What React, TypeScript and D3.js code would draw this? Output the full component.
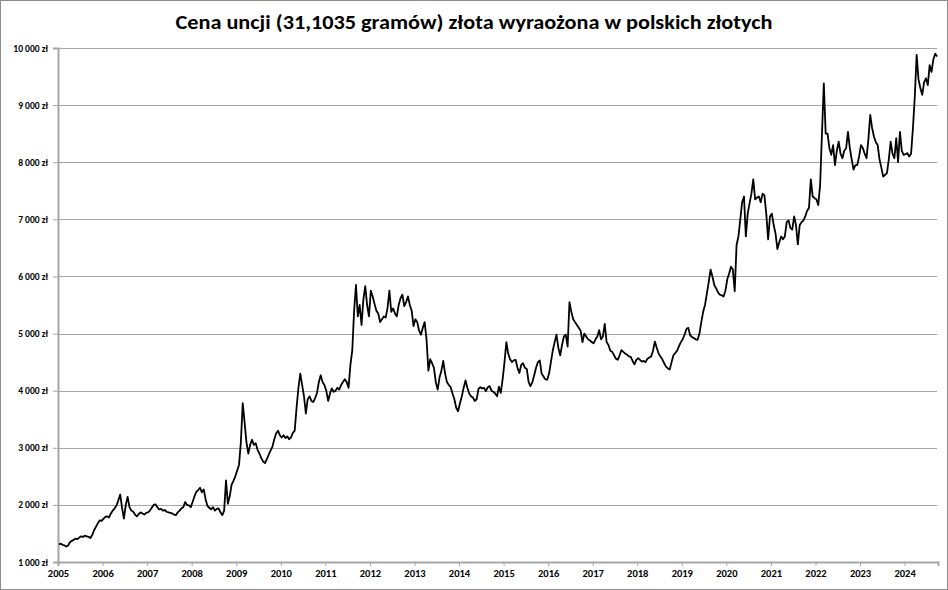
import * as React from "react";
import * as d3 from "d3";

// Semi-monthly readings of the gold price (PLN per troy ounce), one array per year
const p2005 = [1310, 1320, 1300, 1290, 1270, 1290, 1350, 1370, 1390, 1410, 1400, 1430, 1450, 1440, 1460, 1450, 1440, 1420, 1480, 1560, 1620, 1680, 1730, 1720];
const p2006 = [1760, 1790, 1800, 1780, 1850, 1900, 1940, 1990, 2080, 2180, 1950, 1760, 2000, 2140, 1960, 1900, 1880, 1830, 1800, 1840, 1870, 1850, 1830, 1860];
const p2007 = [1870, 1900, 1950, 2000, 2010, 1960, 1920, 1930, 1900, 1910, 1880, 1870, 1860, 1850, 1830, 1820, 1870, 1900, 1940, 1960, 2050, 2000, 1990, 1960];
const p2008 = [2050, 2150, 2230, 2260, 2300, 2220, 2270, 2100, 1980, 1950, 1920, 1960, 1900, 1930, 1940, 1870, 1820, 1900, 2430, 2020, 2150, 2350, 2420, 2500];
const p2009 = [2600, 2700, 3100, 3780, 3450, 3100, 2900, 3050, 3140, 3050, 3080, 2960, 2900, 2820, 2760, 2730, 2800, 2880, 2950, 3020, 3150, 3250, 3300, 3220];
const p2010 = [3180, 3220, 3170, 3200, 3150, 3180, 3260, 3300, 3700, 4050, 4300, 4100, 3900, 3600, 3850, 3900, 3820, 3800, 3870, 3960, 4150, 4270, 4150, 4100];
const p2011 = [4000, 3820, 3950, 4040, 3980, 4000, 4050, 4020, 4100, 4150, 4200, 4150, 4050, 4450, 4700, 5400, 5850, 5300, 5500, 5150, 5600, 5830, 5500, 5300];
const p2012 = [5750, 5650, 5520, 5400, 5350, 5200, 5250, 5300, 5280, 5450, 5750, 5380, 5440, 5350, 5300, 5500, 5620, 5680, 5480, 5550, 5650, 5500, 5400, 5130];
const p2013 = [5250, 5200, 5050, 4980, 5100, 5200, 4900, 4350, 4550, 4480, 4400, 4150, 4020, 4230, 4350, 4520, 4300, 4150, 4100, 4060, 3950, 3850, 3700, 3640];
const p2014 = [3780, 3900, 4050, 4180, 4050, 3950, 3900, 3880, 3820, 3850, 4030, 4060, 4040, 4050, 3990, 4060, 4080, 4000, 3980, 3950, 3900, 4070, 3960, 4200];
const p2015 = [4500, 4850, 4650, 4550, 4500, 4530, 4540, 4400, 4310, 4450, 4480, 4400, 4380, 4150, 4080, 4150, 4270, 4400, 4500, 4530, 4300, 4250, 4200, 4190];
const p2016 = [4300, 4500, 4700, 4850, 4980, 4750, 4620, 4800, 4950, 4980, 4770, 5550, 5380, 5250, 5200, 5150, 5100, 5050, 4850, 5000, 4950, 4900, 4880, 4850];
const p2017 = [4830, 4900, 4950, 5060, 4900, 4950, 5170, 4850, 4800, 4700, 4680, 4620, 4560, 4540, 4620, 4710, 4680, 4650, 4630, 4600, 4590, 4520, 4460, 4540];
const p2018 = [4570, 4540, 4510, 4520, 4500, 4560, 4580, 4600, 4700, 4860, 4750, 4650, 4600, 4550, 4480, 4420, 4390, 4370, 4500, 4620, 4660, 4700, 4780, 4850];
const p2019 = [4900, 4980, 5080, 5100, 4970, 4940, 4920, 4900, 4890, 5000, 5200, 5380, 5500, 5700, 5900, 6120, 6000, 5850, 5790, 5720, 5680, 5670, 5650, 5750];
const p2020 = [5950, 6050, 6170, 6120, 5740, 6550, 6700, 7000, 7300, 7400, 6700, 7100, 7280, 7450, 7700, 7350, 7380, 7400, 7300, 7450, 7420, 7100, 6650, 7050];
const p2021 = [7100, 6900, 6750, 6480, 6600, 6700, 6650, 6700, 6950, 6980, 6850, 6820, 7050, 6900, 6560, 6900, 6950, 6980, 7050, 7150, 7200, 7700, 7400, 7370];
const p2022 = [7350, 7250, 7600, 8500, 9380, 8500, 8500, 8250, 8130, 8300, 7950, 8200, 8360, 8150, 8070, 8200, 8240, 8530, 8250, 8050, 7870, 7950, 7950, 8100];
const p2023 = [8300, 8250, 8150, 8070, 8400, 8830, 8600, 8450, 8350, 8300, 8050, 7900, 7750, 7780, 7810, 8050, 8360, 8150, 8070, 8420, 8000, 8530, 8200, 8130];
const p2024 = [8140, 8160, 8100, 8150, 8600, 9150, 9880, 9450, 9300, 9180, 9400, 9470, 9350, 9700, 9580, 9800, 9900, 9850];

const priceYears = [p2005, p2006, p2007, p2008, p2009, p2010, p2011, p2012, p2013, p2014,
  p2015, p2016, p2017, p2018, p2019, p2020, p2021, p2022, p2023, p2024];
const firstYear = 2005;
const yearLabels = [2005, 2006, 2007, 2008, 2009, 2010, 2011, 2012, 2013, 2014,
  2015, 2016, 2017, 2018, 2019, 2020, 2021, 2022, 2023, 2024];
const yTicks = [1000, 2000, 3000, 4000, 5000, 6000, 7000, 8000, 9000, 10000];
const title = "Cena uncji (31,1035 gramów) złota wyraożona w polskich złotych";

const W = 948, H = 590;
const margin = { left: 58, top: 48, right: 10, bottom: 28 };
const FONT = "Calibri, Carlito, Lato, 'Open Sans', sans-serif";

export default function App() {
  const ref = React.useRef<SVGSVGElement>(null);

  React.useEffect(() => {
    const svg = d3.select(ref.current);
    svg.selectAll("*").remove();

    const pts: [number, number][] = [];
    priceYears.forEach((arr, k) => {
      arr.forEach((v, i) => pts.push([firstYear + k + (i + 0.5) / 24, v]));
    });

    const x = d3.scaleLinear().domain([2005, 2024.75]).range([margin.left, W - margin.right]);
    const y = d3.scaleLinear().domain([1000, 10000]).range([H - margin.bottom, margin.top]);

    const pln = d3.formatLocale({ decimal: ",", thousands: "\u00a0", grouping: [3], currency: ["", "\u00a0zł"] }).format("$,");

    svg.append("rect")
      .attr("x", 0.5).attr("y", 0.5).attr("width", W - 1).attr("height", H - 1)
      .attr("fill", "#fff").attr("stroke", "#8c8c8c");

    svg.append("text")
      .attr("x", W / 2).attr("y", 29)
      .attr("text-anchor", "middle")
      .attr("font-family", FONT).attr("font-weight", "bold").attr("font-size", 20)
      .attr("textLength", 597).attr("lengthAdjust", "spacingAndGlyphs")
      .text(title);

    // gridlines
    const g = svg.append("g");
    g.selectAll("line.grid").data(yTicks.slice(1)).enter().append("line")
      .attr("x1", margin.left).attr("x2", W - margin.right - 1)
      .attr("y1", (d) => Math.round(y(d)) + 0.5).attr("y2", (d) => Math.round(y(d)) + 0.5)
      .attr("stroke", "#a6a6a6").attr("stroke-width", 1);

    // y axis
    const yAxis = d3.axisLeft(y).tickValues(yTicks).tickSize(5).tickPadding(5).tickFormat((d) => pln(+d));
    const ya = svg.append("g").attr("transform", `translate(${margin.left},0)`).call(yAxis);
    ya.select(".domain").attr("stroke", "#a6a6a6").attr("stroke-width", 2);
    ya.selectAll(".tick line").attr("stroke", "#a6a6a6");
    ya.selectAll("text").attr("font-family", FONT).attr("font-weight", "bold").attr("font-size", 9.5).attr("fill", "#000");

    // x axis
    const xAxis = d3.axisBottom(x).tickValues(yearLabels).tickSize(4).tickPadding(4).tickFormat((d) => String(d));
    const xa = svg.append("g").attr("transform", `translate(0,${H - margin.bottom})`).call(xAxis);
    xa.select(".domain").attr("stroke", "#a6a6a6").attr("stroke-width", 2);
    xa.selectAll(".tick line").attr("stroke", "#a6a6a6");
    xa.selectAll("text").attr("font-family", FONT).attr("font-weight", "bold").attr("font-size", 10.5).attr("fill", "#000");

    const line = d3.line<[number, number]>().x((d) => x(d[0])).y((d) => y(d[1]));
    svg.append("path")
      .datum(pts)
      .attr("d", line)
      .attr("fill", "none")
      .attr("stroke", "#000")
      .attr("stroke-width", 1.8)
      .attr("stroke-linejoin", "round");
  }, []);

  return (
    <svg ref={ref} width={W} height={H} style={{ position: "absolute", left: 0, top: 0, background: "#fff" }} />
  );
}
